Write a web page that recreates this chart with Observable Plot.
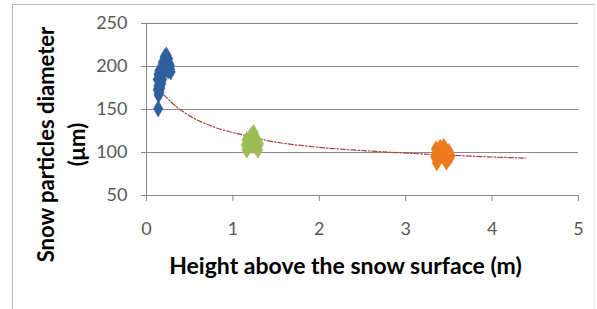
<!DOCTYPE html>
<html>
<head>
<meta charset="utf-8">
<script src="https://cdn.jsdelivr.net/npm/d3@7"></script>
<script src="https://cdn.jsdelivr.net/npm/@observablehq/plot@0.6"></script>
<style>
  html, body { margin: 0; padding: 0; background: #fff; }
  #chart { position: relative; width: 597px; height: 309px; overflow: hidden; }
  #frame { position: absolute; left: 12px; top: 4px; width: 583px; height: 320px; border: 1px solid #b8b8b8; border-right-color: #eeeeee; box-sizing: border-box; pointer-events: none; }
  svg { position: absolute; left: 0; top: 0; }
</style>
</head>
<body>
<div id="chart"><div id="frame"></div></div>
<script>
// Series
const blueHeight = [0.135,0.14,0.15,0.13,0.16,0.14,0.17,0.15,0.13,0.16,0.18,0.14,0.17,0.15,0.19,0.21,0.24,0.27,0.20,0.23,0.26,0.28,0.22,0.25,0.21,0.23,0.19,0.27,0.25,0.18,0.22,0.24];
const blueDiam   = [151,167,170,173,175,178,180,183,185,187,189,191,193,195,196,198,200,197,202,204,203,194,207,209,211,213,205,201,195,185,200,206];
const greenHeight = [1.16,1.29,1.18,1.27,1.15,1.22,1.30,1.19,1.25,1.16,1.23,1.28,1.20,1.25,1.22,1.24,1.18,1.26];
const greenDiam   = [103,103,106,106,109,108,110,112,113,115,116,114,118,119,121,123,110,110];
const orangeHeight = [3.36,3.47,3.38,3.50,3.34,3.42,3.48,3.36,3.44,3.50,3.38,3.46,3.40,3.44,3.35,3.52];
const orangeDiam   = [88,89,92,93,95,96,97,99,100,101,103,104,106,107,104,96];
// Trend line points
const trendHeight = [0.20,0.35,0.51,0.77,1.13,1.39,2.00,2.71,3.16,3.60,4.04,4.39];
const trendDiam   = [167,153,142,130,120,114,106,101,98.5,96.5,94.6,93.5];
const xTicks = [0,1,2,3,4,5];
const yTicks = [50,100,150,200,250];
const xTitle = "Height above the snow surface (m)";
const yTitle1 = "Snow particles diameter";
const yTitle2 = "(μm)";
const seriesNames = ["near surface","middle","top"];

const points = [
  ...blueHeight.map((h,i)=>({h, d: blueDiam[i], s: seriesNames[0]})),
  ...greenHeight.map((h,i)=>({h, d: greenDiam[i], s: seriesNames[1]})),
  ...orangeHeight.map((h,i)=>({h, d: orangeDiam[i], s: seriesNames[2]}))
];
const trend = trendHeight.map((h,i)=>({h, d: trendDiam[i]}));

const font = "Lato, 'Open Sans', sans-serif";
const plot = Plot.plot({
  width: 597, height: 309,
  marginLeft: 146, marginRight: 19, marginTop: 23, marginBottom: 114,
  style: { fontFamily: font, background: "transparent", overflow: "visible" },
  x: { domain: [0,5] },
  y: { domain: [50,250] },
  color: { domain: seriesNames, range: ["#2f5f9e","#9cbd55","#ee7a1e"] },
  marks: [
    Plot.gridY(yTicks.filter(t=>t>50), { stroke: "#8a8a8a", strokeOpacity: 1, strokeWidth: 1 }),
    Plot.ruleY([50], { stroke: "#8a8a8a" }),
    Plot.ruleX([0], { stroke: "#8a8a8a" }),
    Plot.axisY({ ticks: yTicks, tickSize: 5, stroke: "#8a8a8a", tickFormat: () => "", label: null }),
    Plot.axisX({ ticks: xTicks, tickSize: 6, stroke: "#8a8a8a", tickFormat: () => "", label: null }),
    Plot.text(yTicks, { x: 0, y: d => d, text: d => String(d), textAnchor: "end", dx: -19, fontSize: 18, fill: "#595959" }),
    Plot.text(xTicks, { x: d => d, y: 50, text: d => String(d), textAnchor: "middle", dy: 34, fontSize: 18, fill: "#595959" }),
    Plot.line(trend, { x: "h", y: "d", curve: "monotone-x", stroke: "#a8403c", strokeWidth: 1.2, strokeDasharray: "5,2,1.5,2" }),
    Plot.dot(points, { x: "h", y: "d", fill: "s", symbol: "diamond", r: 5, stroke: "s", strokeWidth: 0.5 }),
    Plot.text([xTitle], { frameAnchor: "bottom", textAnchor: "middle", dx: -17, dy: 78, fontSize: 23, fontWeight: "bold", fill: "#000", text: d=>d }),
    Plot.text([yTitle1], { frameAnchor: "left", textAnchor: "middle", rotate: -90, dx: -100, dy: 35, fontSize: 22, fontWeight: "bold", fill: "#000", text: d=>d }),
    Plot.text([yTitle2], { frameAnchor: "left", textAnchor: "middle", rotate: -90, dx: -69, dy: 35, fontSize: 22, fontWeight: "bold", fill: "#000", text: d=>d })
  ]
});
document.getElementById("chart").appendChild(plot);
</script>
</body>
</html>
